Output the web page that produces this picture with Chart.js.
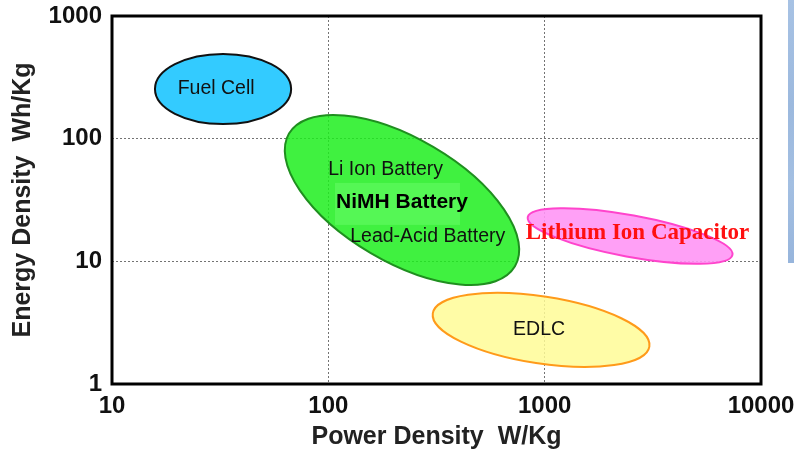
<!DOCTYPE html>
<html>
<head>
<meta charset="utf-8">
<script src="https://cdn.jsdelivr.net/npm/chart.js@4/dist/chart.umd.min.js"></script>
<style>
  html, body { margin: 0; padding: 0; background: #fff; }
  #wrap { position: relative; width: 794px; height: 455px; overflow: hidden; }
  #edge { position: absolute; left: 788px; top: 0; width: 6px; height: 263px;
          background: linear-gradient(180deg, #a7c2e4 0%, #9cb9de 40%, #a3bfe2 70%, #97b5dc 100%); }
</style>
</head>
<body>
<div id="wrap">
  <canvas id="c" width="794" height="455"></canvas>
  <div id="edge"></div>
</div>
<script>
// Ragone plot: energy density vs power density of storage technologies.
// Each region is an ellipse whose major axis runs between two (power, energy) points.
const regionNames  = ['Fuel Cell', 'Batteries', 'Lithium Ion Capacitor', 'EDLC'];
const powerFrom    = [15.8, 65.8, 835, 304];     // W/Kg, start of major axis
const powerTo      = [67.3, 729, 7380, 3048];    // W/Kg, end of major axis
const energyFrom   = [254, 110, 22.9, 3.77];     // Wh/Kg, start of major axis
const energyTo     = [254, 9.1, 11.3, 2.02];     // Wh/Kg, end of major axis
const minorRatio   = [0.515, 0.47, 0.2, 0.306];  // minor / major axis

// Text labels placed at (power, energy)
const labelTexts   = ['Fuel Cell', 'Li Ion Battery', 'NiMH Battery', 'Lead-Acid Battery', 'Lithium Ion Capacitor', 'EDLC'];
const labelPower   = [30.3, 184, 219, 288, 2685, 942];
const labelEnergy  = [254, 55.6, 30.5, 15.8, 17.0, 2.76];

// Axis ticks
const powerTicks   = [10, 100, 1000, 10000];
const energyTicks  = [1, 10, 100, 1000];

const regionFill   = ['rgba(40,200,255,0.95)', 'rgba(30,238,30,0.85)', 'rgba(255,150,245,0.9)', 'rgba(255,252,150,0.85)'];
const regionStroke = ['#111111', '#1f8f1f', '#ff44cc', '#ff9a1a'];
const labelFonts   = ['19.5px "Liberation Sans", Arial, sans-serif',
                      '19.5px "Liberation Sans", Arial, sans-serif',
                      'bold 21px "Liberation Sans", Arial, sans-serif',
                      '19.5px "Liberation Sans", Arial, sans-serif',
                      'bold 23px "Liberation Serif", "Times New Roman", serif',
                      '19.5px "Liberation Sans", Arial, sans-serif'];
const labelColors  = ['#111', '#111', '#000', '#111', '#ff1010', '#111'];

const regionsPlugin = {
  id: 'regions',
  beforeDatasetsDraw(chart) {
    const {ctx, chartArea, scales: {x, y}} = chart;
    ctx.save();
    ctx.beginPath();
    ctx.rect(chartArea.left, chartArea.top, chartArea.width, chartArea.height);
    ctx.clip();
    regionNames.forEach((name, i) => {
      const x1 = x.getPixelForValue(powerFrom[i]), y1 = y.getPixelForValue(energyFrom[i]);
      const x2 = x.getPixelForValue(powerTo[i]),   y2 = y.getPixelForValue(energyTo[i]);
      const cx = (x1 + x2) / 2, cy = (y1 + y2) / 2;
      const a = Math.hypot(x2 - x1, y2 - y1) / 2;
      const b = a * minorRatio[i];
      const rot = Math.atan2(y2 - y1, x2 - x1);
      ctx.beginPath();
      ctx.ellipse(cx, cy, a, b, rot, 0, Math.PI * 2);
      ctx.fillStyle = regionFill[i];
      ctx.fill();
      ctx.lineWidth = 2;
      ctx.strokeStyle = regionStroke[i];
      ctx.stroke();
      if (name === 'Batteries') {
        // lighter panel behind the NiMH label
        const px = x.getPixelForValue(labelPower[2]);
        const py = y.getPixelForValue(labelEnergy[2]);
        ctx.fillStyle = 'rgba(110,255,110,0.45)';
        ctx.fillRect(px - 67, py - 19, 125, 42);
      }
    });
    ctx.restore();
  },
  afterDraw(chart) {
    const {ctx, chartArea, scales: {x, y}} = chart;
    ctx.save();
    // plot frame
    ctx.strokeStyle = '#000';
    ctx.lineWidth = 3;
    ctx.strokeRect(chartArea.left, chartArea.top, chartArea.width, chartArea.height);
    // region labels
    ctx.textAlign = 'center';
    ctx.textBaseline = 'middle';
    labelTexts.forEach((t, i) => {
      ctx.font = labelFonts[i];
      ctx.fillStyle = labelColors[i];
      ctx.fillText(t, x.getPixelForValue(labelPower[i]), y.getPixelForValue(labelEnergy[i]));
    });
    ctx.restore();
  }
};

const tickFont = { family: '"Liberation Sans", Arial, sans-serif', size: 24, weight: 'bold' };
const titleFont = { family: '"Liberation Sans", Arial, sans-serif', size: 25, weight: 'bold' };

new Chart(document.getElementById('c'), {
  type: 'scatter',
  data: { datasets: [] },
  plugins: [regionsPlugin],
  options: {
    responsive: false,
    animation: false,
    events: [],
    layout: { padding: { left: 0, top: 16, right: 33, bottom: 0 } },
    plugins: { legend: { display: false }, tooltip: { enabled: false } },
    scales: {
      x: {
        type: 'logarithmic',
        min: 10, max: 10000,
        afterBuildTicks(s) { s.ticks = powerTicks.map(v => ({ value: v })); },
        afterFit(s) { s.height = 71; s.paddingLeft = 0; s.paddingRight = 0; },
        ticks: { font: tickFont, color: '#111', padding: 8, maxRotation: 0, autoSkip: false,
                 callback: v => String(v) },
        grid: { drawTicks: false, color: 'rgba(90,90,90,0.85)', lineWidth: 1 },
        border: { display: false, dash: [2, 2] },
        title: { display: true, text: 'Power Density  W/Kg', font: titleFont, color: '#222',
                 padding: { top: 0, bottom: 3 } }
      },
      y: {
        type: 'logarithmic',
        min: 1, max: 1000,
        afterBuildTicks(s) { s.ticks = energyTicks.map(v => ({ value: v })); },
        afterFit(s) { s.width = 112; s.paddingTop = 0; s.paddingBottom = 0; },
        ticks: { font: tickFont, color: '#111', padding: 10, autoSkip: false,
                 callback: v => String(v) },
        grid: { drawTicks: false, color: 'rgba(90,90,90,0.85)', lineWidth: 1 },
        border: { display: false, dash: [2, 2] },
        title: { display: true, text: 'Energy Density  Wh/Kg', font: titleFont, color: '#222',
                 padding: { top: 8, bottom: 0 } }
      }
    }
  }
});
</script>
</body>
</html>
